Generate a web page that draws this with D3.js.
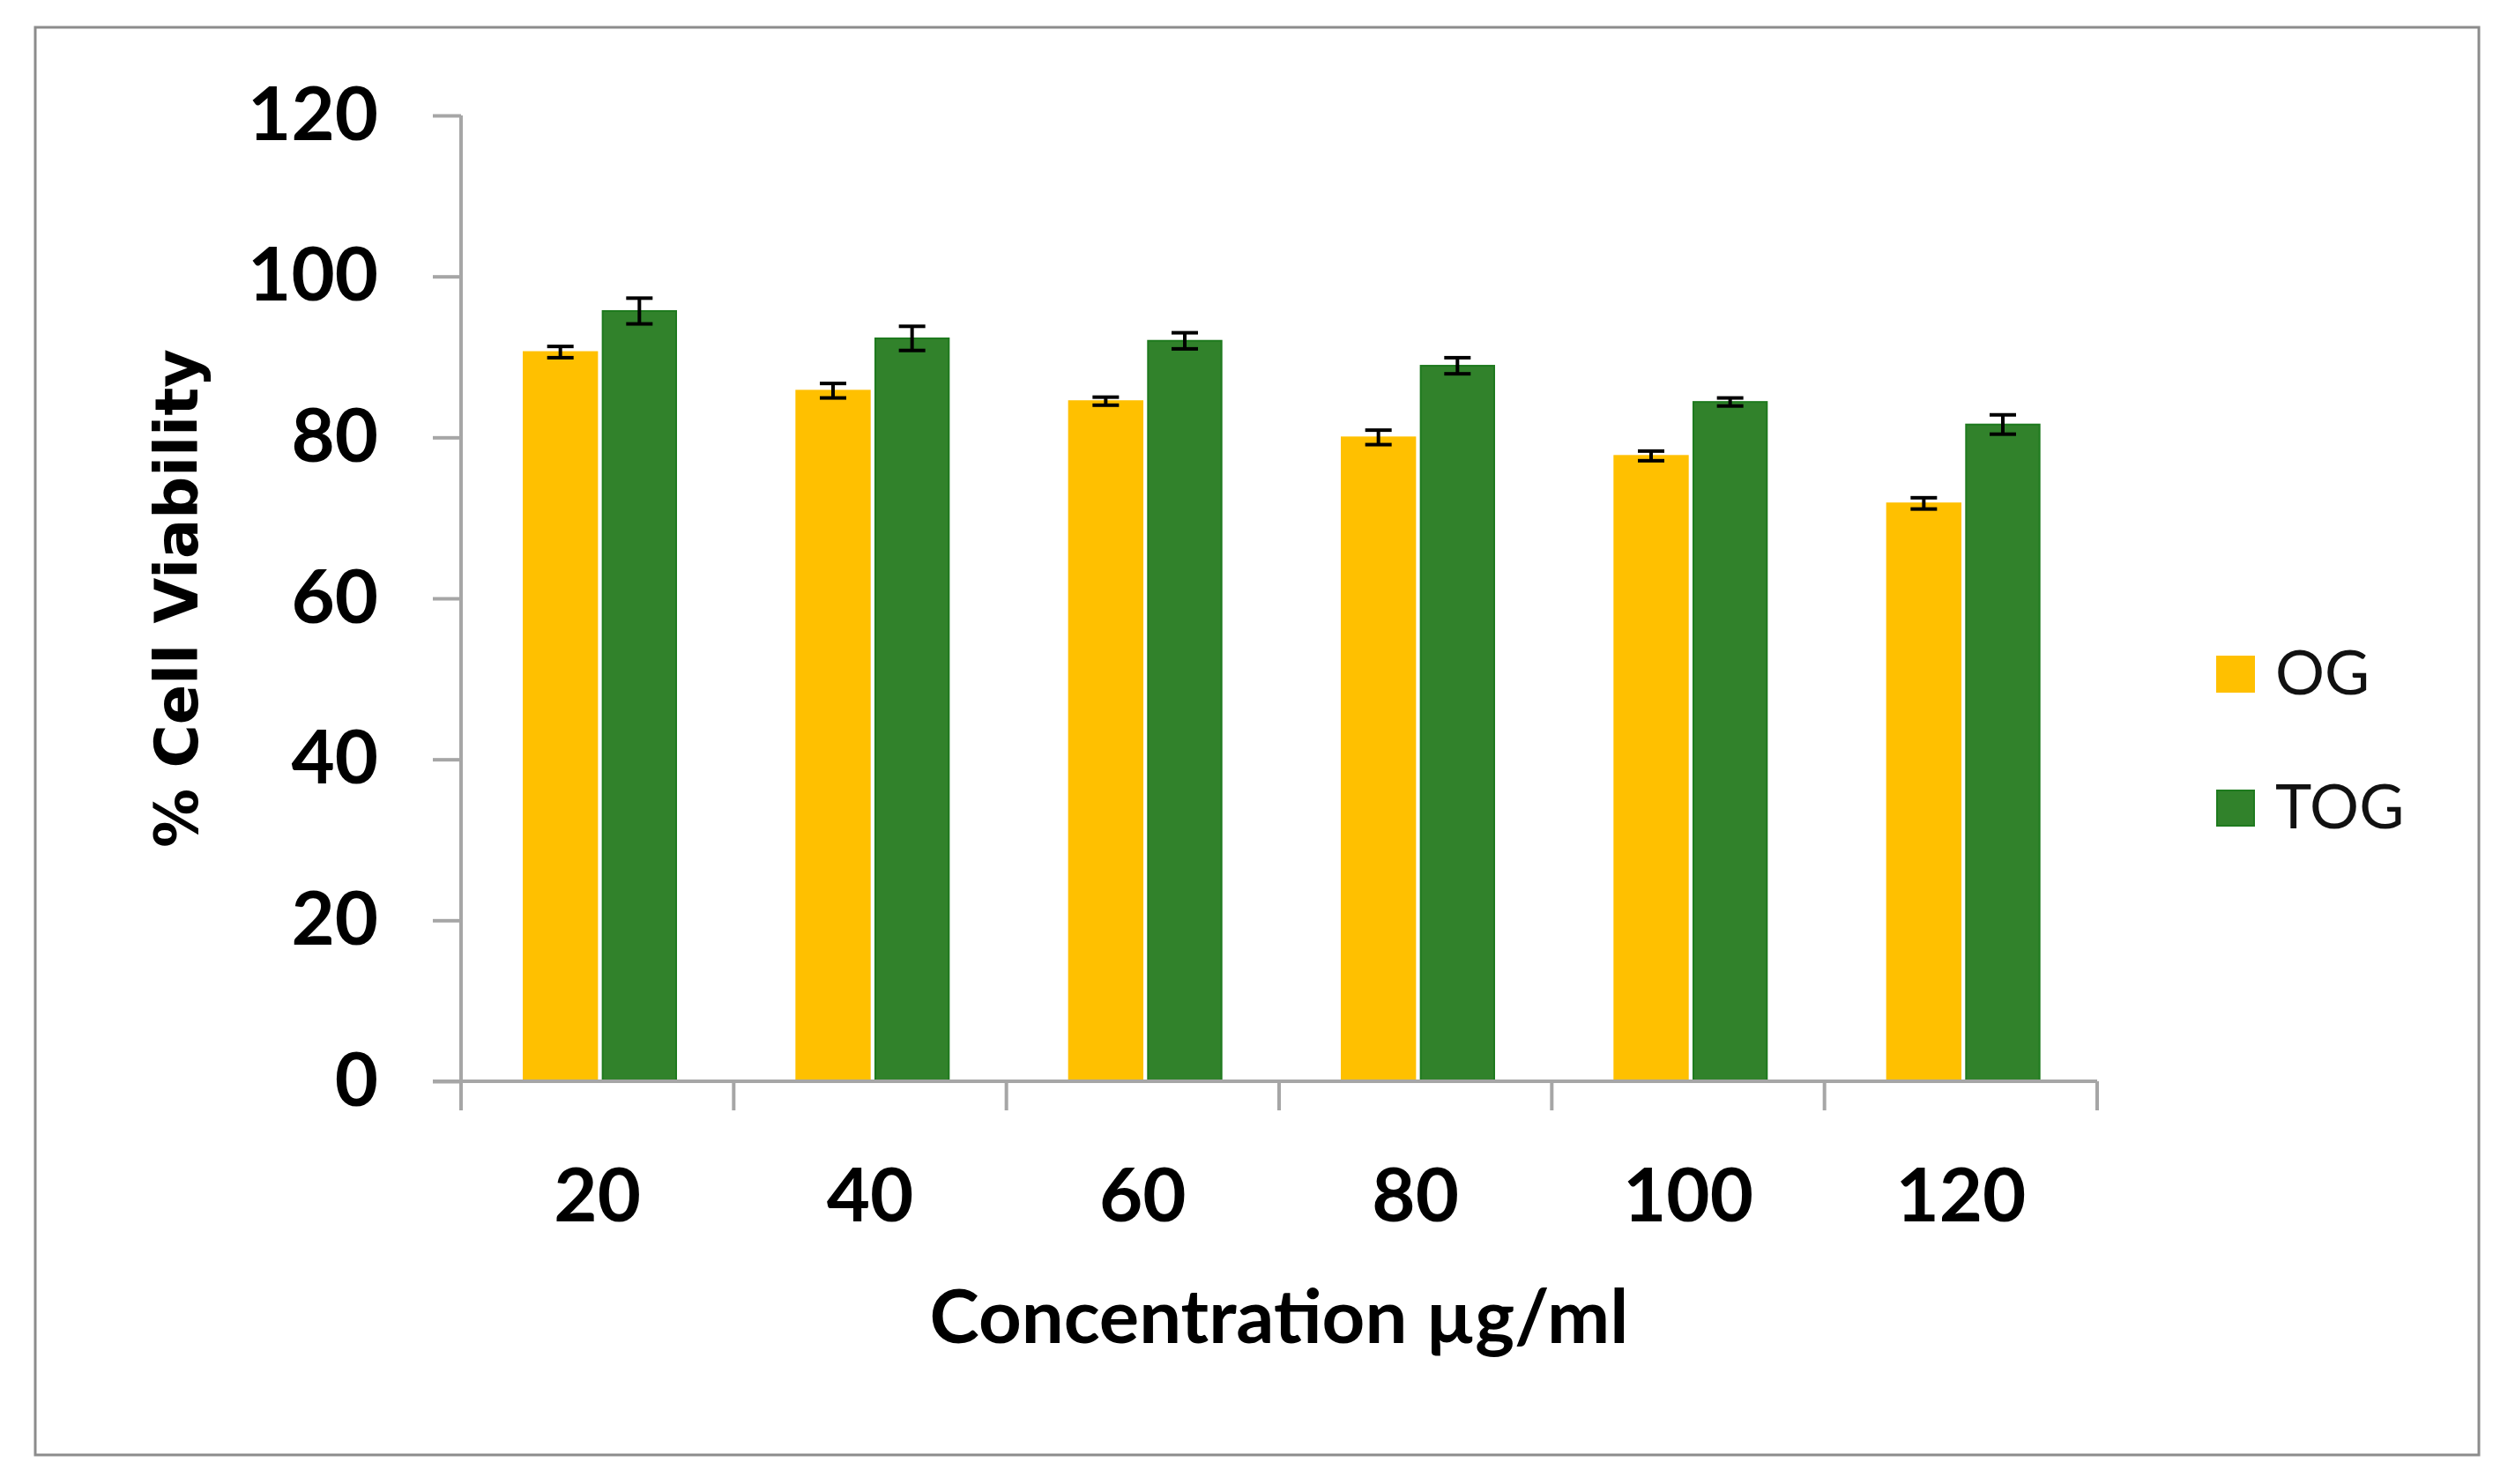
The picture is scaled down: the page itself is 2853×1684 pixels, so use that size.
<!DOCTYPE html>
<html lang="en">
<head>
<meta charset="utf-8">
<title>Cell Viability</title>
<style>
  body { margin: 0; background: #ffffff; }
  svg { display: block; }
</style>
</head>
<body>
<div id="chart"></div>
<script src="https://d3js.org/d3.v7.min.js"></script>
<script>
// data
var concentrations = ["20", "40", "60", "80", "100", "120"];
var seriesNames = ["OG", "TOG"];
var ogValues = [90.6, 85.8, 84.5, 80.0, 77.7, 71.8];
var ogErrors = [0.7, 0.9, 0.5, 0.9, 0.6, 0.7];
var togValues = [95.7, 92.3, 92.0, 88.9, 84.4, 81.6];
var togErrors = [1.6, 1.5, 1.0, 1.0, 0.5, 1.2];
var yTicks = [0, 20, 40, 60, 80, 100, 120];

var colors = { OG: "#FFC000", TOG: "#31822B" };
var strokes = { OG: "#FFC000", TOG: "#1E7A1E" };

var width = 2853, height = 1684;
// note: "top" is a reserved window property, so use plot* names
var plotLeft = 523, plotRight = 2379, plotTop = 131, plotBottom = 1227;

var svg = d3.select("#chart").append("svg")
    .attr("width", width)
    .attr("height", height);

// outer frame
svg.append("rect")
    .attr("x", 40).attr("y", 31)
    .attr("width", 2772).attr("height", 1620)
    .attr("fill", "#ffffff")
    .attr("stroke", "#8c8c8c")
    .attr("stroke-width", 3);

var x0 = d3.scaleBand().domain(concentrations).range([plotLeft, plotRight]);
var x1 = d3.scaleBand().domain(seriesNames).range([71, 244]).paddingInner(0.07);
var y = d3.scaleLinear().domain([0, 120]).range([plotBottom, plotTop]);

var rows = concentrations.map(function(c, i) {
    return [
        { cat: c, name: "OG", value: ogValues[i], err: ogErrors[i] },
        { cat: c, name: "TOG", value: togValues[i], err: togErrors[i] }
    ];
});
var flat = [].concat.apply([], rows);

// bars
svg.selectAll("rect.bar")
    .data(flat)
    .enter()
    .append("rect")
    .attr("class", "bar")
    .attr("x", function(d) { return x0(d.cat) + x1(d.name); })
    .attr("y", function(d) { return y(d.value); })
    .attr("width", x1.bandwidth())
    .attr("height", function(d) { return y(0) - y(d.value); })
    .attr("fill", function(d) { return colors[d.name]; })
    .attr("stroke", function(d) { return strokes[d.name]; })
    .attr("stroke-width", 2);

// y axis
var yAxis = d3.axisLeft(y).tickValues(yTicks).tickSize(32).tickPadding(62);
var gy = svg.append("g")
    .attr("transform", "translate(" + plotLeft + ",0)")
    .call(yAxis);
gy.select(".domain").attr("stroke", "#a6a6a6").attr("stroke-width", 4).attr("d", "M0," + plotTop + "V" + plotBottom);
gy.selectAll(".tick line").attr("stroke", "#a6a6a6").attr("stroke-width", 4);
gy.selectAll(".tick text")
    .attr("fill", "#000")
    .style("font-family", "Lato, 'Open Sans', sans-serif")
    .style("font-weight", "bold")
    .style("font-size", "85px");

// x axis: ticks on the category boundaries
var gx = svg.append("g").attr("transform", "translate(0," + plotBottom + ")");
gx.append("line")
    .attr("x1", plotLeft - 32).attr("x2", plotRight)
    .attr("y1", 0).attr("y2", 0)
    .attr("stroke", "#a6a6a6").attr("stroke-width", 4);
var boundaries = concentrations.map(function(c) { return x0(c); }).concat([plotRight]);
gx.selectAll("line.sep")
    .data(boundaries)
    .enter()
    .append("line")
    .attr("class", "sep")
    .attr("x1", function(d) { return d; })
    .attr("x2", function(d) { return d; })
    .attr("y1", 0).attr("y2", 33)
    .attr("stroke", "#a6a6a6").attr("stroke-width", 4);
gx.selectAll("text.cat")
    .data(concentrations)
    .enter()
    .append("text")
    .attr("class", "cat")
    .attr("x", function(d) { return x0(d) + x0.bandwidth() / 2; })
    .attr("y", 159)
    .attr("text-anchor", "middle")
    .style("font-family", "Lato, 'Open Sans', sans-serif")
    .style("font-weight", "bold")
    .style("font-size", "85px")
    .text(function(d) { return d; });

// error bars
var eb = svg.selectAll("g.err")
    .data(flat)
    .enter()
    .append("g")
    .attr("class", "err")
    .attr("stroke", "#000")
    .attr("stroke-width", 4);
eb.append("line")
    .attr("x1", function(d) { return x0(d.cat) + x1(d.name) + x1.bandwidth() / 2; })
    .attr("x2", function(d) { return x0(d.cat) + x1(d.name) + x1.bandwidth() / 2; })
    .attr("y1", function(d) { return y(d.value + d.err); })
    .attr("y2", function(d) { return y(d.value - d.err); });
[1, -1].forEach(function(s) {
    eb.append("line")
        .attr("x1", function(d) { return x0(d.cat) + x1(d.name) + x1.bandwidth() / 2 - 15; })
        .attr("x2", function(d) { return x0(d.cat) + x1(d.name) + x1.bandwidth() / 2 + 15; })
        .attr("y1", function(d) { return y(d.value + s * d.err); })
        .attr("y2", function(d) { return y(d.value + s * d.err); });
});

// axis titles
svg.append("text")
    .attr("transform", "translate(224," + ((plotTop + plotBottom) / 2) + ") rotate(-90)")
    .attr("text-anchor", "middle")
    .style("font-family", "'DejaVu Sans', Verdana, sans-serif")
    .style("font-weight", "bold")
    .style("font-size", "67px")
    .text("% Cell Viability");

svg.append("text")
    .attr("x", (plotLeft + plotRight) / 2)
    .attr("y", 1524)
    .attr("text-anchor", "middle")
    .style("font-family", "Lato, 'Open Sans', sans-serif")
    .style("font-weight", "bold")
    .style("font-size", "85px")
    .text("Concentration \u00b5g/ml");

// legend
var legend = svg.selectAll("g.legend")
    .data(seriesNames)
    .enter()
    .append("g")
    .attr("class", "legend")
    .attr("transform", function(d, i) { return "translate(2515," + (745 + i * 152) + ")"; });
legend.append("rect")
    .attr("width", 42).attr("height", 40)
    .attr("fill", function(d) { return colors[d]; })
    .attr("stroke", function(d) { return strokes[d]; })
    .attr("stroke-width", 2);
legend.append("text")
    .attr("x", 66)
    .attr("y", 43)
    .style("font-family", "Lato, 'Open Sans', sans-serif")
    .style("font-size", "70px")
    .attr("fill", "#111")
    .text(function(d) { return d; });
</script>
</body>
</html>
